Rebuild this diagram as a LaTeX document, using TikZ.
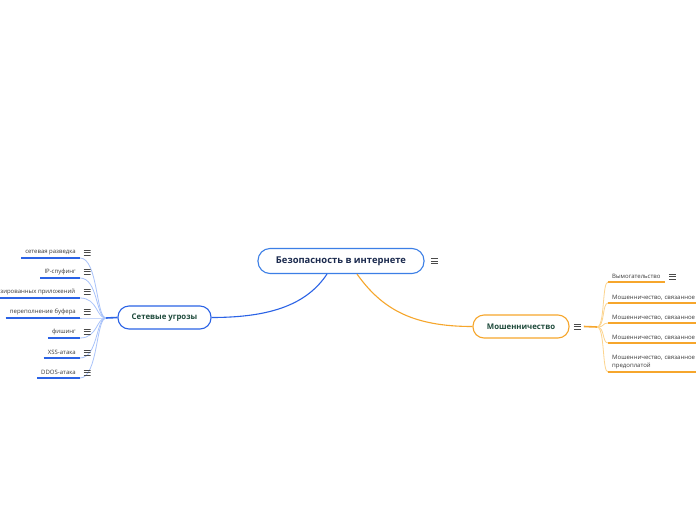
\documentclass[tikz,border=0pt]{standalone}
\usepackage{fontspec}
\setmainfont{Open Sans}
\usetikzlibrary{positioning}
\definecolor{netblue}{HTML}{2B63E6}
\definecolor{netsoft}{HTML}{A9C3FA}
\definecolor{rootblue}{HTML}{3C7FE6}
\definecolor{fraud}{HTML}{F6A62C}
\definecolor{fraudsoft}{HTML}{FCD48E}
\definecolor{titletext}{HTML}{1B2A4E}
\definecolor{nodetext}{HTML}{1E4A3B}
\definecolor{leaftext}{HTML}{3A3A3A}
\definecolor{icon}{HTML}{4A4A4A}
\tikzset{
  topic/.style={draw,line width=1.1pt,rounded corners=11pt,fill=white,minimum height=23pt,
    font=\bfseries\fontsize{7.8}{9}\selectfont,text=nodetext},
  leaf/.style={font=\fontsize{6}{8}\selectfont,text=leaftext,inner xsep=4pt,inner ysep=3pt},
  menu/.style={minimum width=7pt,minimum height=7pt,inner sep=0pt,
    path picture={\draw[icon,line width=0.8pt]
      ([yshift=-1pt]path picture bounding box.north west) -- ([yshift=-1pt]path picture bounding box.north east)
      (path picture bounding box.west) -- (path picture bounding box.east)
      ([yshift=1pt]path picture bounding box.south west) -- ([yshift=1pt]path picture bounding box.south east);}},
}

\begin{document}
\begin{tikzpicture}[x=1pt,y=-1pt]
\useasboundingbox (0,0) rectangle (696,520);
\fill[white] (0,0) rectangle (696,520);
\clip (0,0) rectangle (696,520);

% main topic
\node[topic,draw=rootblue,minimum width=166pt,minimum height=25pt,rounded corners=12pt,
  font=\bfseries\fontsize{9.4}{11}\selectfont,text=titletext] (root) at (341,261)
  {Безопасность в интернете};
\node[menu,right=6pt of root] (rootmenu) {};

% branches
\node[topic,draw=netblue,minimum width=93pt] (net) at (164.5,317.5) {Сетевые угрозы};
\node[topic,draw=fraud,minimum width=96pt] (fraud) at (521,326.5) {Мошенничество};
\node[menu,right=4pt of fraud] (fraudmenu) {};

\draw[netblue,line width=1.1pt] ([xshift=-14pt]root.south) .. controls +(-20,30) and +(60,0) .. (net.east);
\draw[fraud,line width=1.1pt] ([xshift=16pt]root.south) .. controls +(25,35) and +(-60,0) .. (fraud.west);

% network threats
\coordinate (nethub) at (106,318);
\draw[netblue,line width=1.6pt] (nethub) -- (net.west);
\foreach \i/\txt/\ly in {1/сетевая разведка/258,2/IP-спуфинг/278,4/переполнение буфера/318,
    5/фишинг/338,6/XSS-атака/358,7/DDOS-атака/378}{
  \node[leaf,anchor=south east] (netleaf\i) at (80,\ly) {\txt};
}
\node[leaf,anchor=south east,minimum width=84pt] (netleaf3) at (80,298) {\hfill зированных приложений};
\foreach \i in {1,...,7}{
  \draw[netsoft,line width=0.8pt] (netleaf\i.south east) .. controls +(18,0) and +(-10,0) .. (nethub);
  \draw[netblue,line width=1.6pt] (netleaf\i.south west) -- (netleaf\i.south east);
  \node[menu,right=3.5pt of netleaf\i] (netmenu\i) {};
}

% fraud
\coordinate (fraudhub) at (597,327);
\draw[fraud,line width=1.6pt] ([xshift=3pt]fraudmenu.east) -- (fraudhub);
\node[leaf,anchor=south west] (fraudleaf1) at (608,282) {Вымогательство};
\node[menu,right=4pt of fraudleaf1] (fraudmenu1) {};
\foreach \i/\ly in {2/303,3/323,4/343}{
  \node[leaf,anchor=south west,text width=92pt,align=left] (fraudleaf\i) at (608,\ly) {Мошенничество, связанное};
}
\node[leaf,anchor=south west,text width=92pt,align=left] (fraudleaf5) at (608,372)
  {Мошенничество, связанное\\предоплатой};
\foreach \i in {1,...,5}{
  \draw[fraudsoft,line width=0.8pt] (fraudhub) .. controls +(8,0) and +(-6,0) .. (fraudleaf\i.south west);
  \draw[fraud,line width=1.6pt] (fraudleaf\i.south west) -- (fraudleaf\i.south east);
}
\end{tikzpicture}
\end{document}
